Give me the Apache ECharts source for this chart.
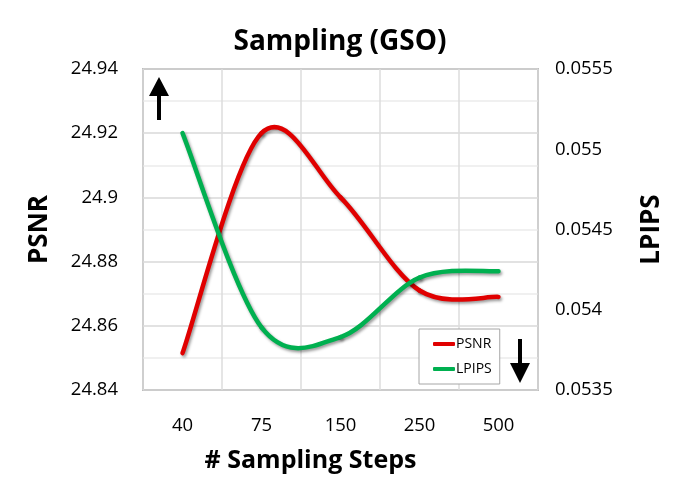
<!DOCTYPE html>
<html>
<head>
<meta charset="utf-8">
<script src="https://cdn.jsdelivr.net/npm/echarts@6/dist/echarts.min.js"></script>
<style>
  html, body { margin: 0; padding: 0; background: #fff; }
  #chart { width: 680px; height: 483px; }
</style>
</head>
<body>
<div id="chart"></div>
<script>
// Data
const steps = ['40', '75', '150', '250', '500'];
const psnr = [24.8515, 24.920, 24.900, 24.871, 24.869];
const lpips = [0.05510, 0.05389, 0.05383, 0.05420, 0.05424];

const font = 'Open Sans';

// Excel-like smoothed line: one cubic bezier per segment (Catmull-Rom control points),
// positions come from the axes through api.coord
function smoothLine(values, color) {
    return function (params, api) {
        const i = params.dataIndex;
        const n = values.length;
        if (i >= n - 1) return null;
        const pt = k => {
            k = Math.max(0, Math.min(n - 1, k));
            return api.coord([k, values[k]]);
        };
        const p0 = pt(i - 1), p1 = pt(i), p2 = pt(i + 1), p3 = pt(i + 2);
        return {
            type: 'bezierCurve',
            shape: {
                x1: p1[0], y1: p1[1],
                cpx1: p1[0] + (p2[0] - p0[0]) / 6, cpy1: p1[1] + (p2[1] - p0[1]) / 6,
                cpx2: p2[0] - (p3[0] - p1[0]) / 6, cpy2: p2[1] - (p3[1] - p1[1]) / 6,
                x2: p2[0], y2: p2[1]
            },
            style: {
                fill: null,
                stroke: color,
                lineWidth: 4.5,
                lineCap: 'round',
                shadowColor: 'rgba(0,0,0,0.4)',
                shadowBlur: 3,
                shadowOffsetX: 1.5,
                shadowOffsetY: 2
            }
        };
    };
}

const chart = echarts.init(document.getElementById('chart'));
chart.setOption({
    animation: false,
    title: {
        text: 'Sampling (GSO)',
        left: 'center',
        top: 23,
        textStyle: { fontFamily: font, fontSize: 28, fontWeight: 'bold', color: '#000' }
    },
    grid: {
        left: 143, right: 142, top: 69, bottom: 93,
        show: true,
        borderColor: '#8a8a8a',
        borderWidth: 1.5
    },
    legend: {
        orient: 'vertical',
        left: 419,
        top: 329,
        backgroundColor: '#fff',
        borderColor: '#a6a6a6',
        borderWidth: 1,
        borderRadius: 0,
        padding: [8, 8, 8, 14],
        itemGap: 11,
        itemWidth: 22,
        itemHeight: 4,
        icon: 'roundRect',
        textStyle: { fontFamily: font, fontSize: 14, color: '#000', padding: [0, 0, 0, -4] },
        data: ['PSNR', 'LPIPS']
    },
    xAxis: {
        type: 'category',
        data: steps,
        boundaryGap: true,
        name: '# Sampling Steps',
        nameLocation: 'middle',
        nameGap: 58,
        nameTextStyle: {
            fontFamily: font, fontSize: 25, fontWeight: 'bold', color: '#000',
            padding: [0, 60, 0, 0]
        },
        axisLine: { show: false },
        axisTick: { show: false },
        axisLabel: { fontFamily: font, fontSize: 18.5, color: '#000', margin: 26 },
        splitLine: { show: true, lineStyle: { color: '#dcdcdc', width: 1.5 } }
    },
    yAxis: [{
        type: 'value',
        min: 24.84,
        max: 24.94,
        interval: 0.02,
        name: 'PSNR',
        nameLocation: 'middle',
        nameGap: 90,
        nameTextStyle: { fontFamily: font, fontSize: 26, fontWeight: 'bold', color: '#000' },
        axisLine: { show: false },
        axisTick: { show: false },
        axisLabel: {
            fontFamily: font, fontSize: 18.5, color: '#000', margin: 25,
            formatter: v => parseFloat(v.toFixed(2)).toString()
        },
        splitLine: { show: true, lineStyle: { color: '#d9d9d9', width: 1.5 } },
        minorTick: { show: false, splitNumber: 2 },
        minorSplitLine: { show: true, lineStyle: { color: '#ececec', width: 1.5 } }
    }, {
        type: 'value',
        min: 0.0535,
        max: 0.0555,
        interval: 0.0005,
        name: 'LPIPS',
        nameLocation: 'middle',
        nameGap: 101,
        nameTextStyle: { fontFamily: font, fontSize: 26, fontWeight: 'bold', color: '#000' },
        axisLine: { show: false },
        axisTick: { show: false },
        axisLabel: {
            fontFamily: font, fontSize: 18.5, color: '#000', margin: 17,
            formatter: v => parseFloat(v.toFixed(4)).toString()
        },
        splitLine: { show: false }
    }],
    series: [{
        name: 'PSNR',
        type: 'custom',
        yAxisIndex: 0,
        data: psnr.map((v, i) => [i, v]),
        encode: { x: 0, y: 1 },
        itemStyle: { color: '#e00000' },
        renderItem: smoothLine(psnr, '#e00000'),
        z: 3
    }, {
        name: 'LPIPS',
        type: 'custom',
        yAxisIndex: 1,
        data: lpips.map((v, i) => [i, v]),
        encode: { x: 0, y: 1 },
        itemStyle: { color: '#00b050' },
        renderItem: smoothLine(lpips, '#00b050'),
        z: 4
    }],
    // direction arrows (higher PSNR better, lower LPIPS better)
    graphic: [
        {
            type: 'polygon',
            z: 100,
            shape: { points: [[157, 120], [161, 120], [161, 96], [169, 96], [159, 77], [149, 96], [157, 96]] },
            style: { fill: '#000' }
        },
        {
            type: 'polygon',
            z: 100,
            shape: { points: [[518, 339], [522, 339], [522, 363], [530, 363], [520, 383], [510, 363], [518, 363]] },
            style: { fill: '#000' }
        }
    ]
});
</script>
</body>
</html>
